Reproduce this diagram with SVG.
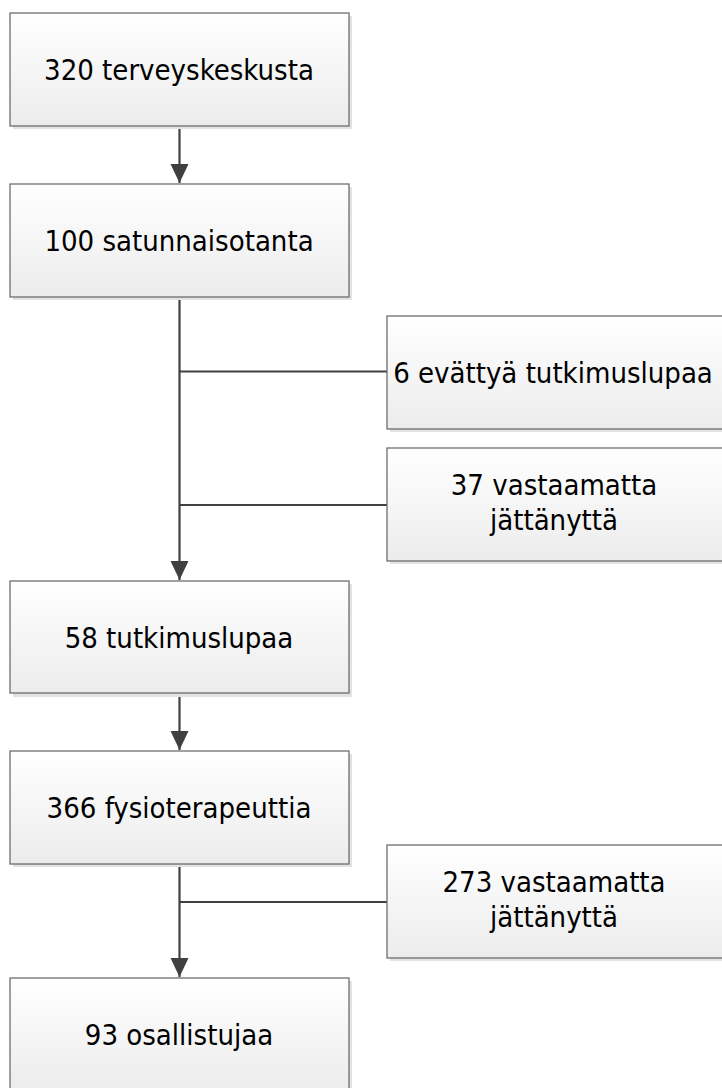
<svg xmlns="http://www.w3.org/2000/svg" width="722" height="1088" viewBox="0 0 722 1088">
<style>
.box{fill:url(#g);stroke:#6e6e6e;stroke-width:1.3}
.sh{fill:#e2e2e2}
.t{font-family:"DejaVu Sans Condensed","DejaVu Sans",sans-serif;font-size:29px;fill:#000;text-anchor:middle}
.c{stroke:#404040;stroke-width:2.2;fill:none}
</style>
<defs>
<linearGradient id="g" x1="0" y1="0" x2="0" y2="1">
<stop offset="0" stop-color="#ffffff"/>
<stop offset="1" stop-color="#ececec"/>
</linearGradient>
<marker id="a" markerUnits="userSpaceOnUse" markerWidth="20" markerHeight="20" viewBox="0 0 20 20" refX="19" refY="10" orient="auto">
<path d="M0,1 L19,10 L0,19 Z" fill="#404040"/>
</marker>
</defs>
<g id="connectors">
<line class="c" x1="179.5" y1="126" x2="179.5" y2="183" marker-end="url(#a)"/>
<line class="c" x1="179.5" y1="297" x2="179.5" y2="580" marker-end="url(#a)"/>
<line class="c" x1="179.5" y1="371.5" x2="387" y2="371.5"/>
<line class="c" x1="179.5" y1="505" x2="387" y2="505"/>
<line class="c" x1="179.5" y1="693" x2="179.5" y2="750" marker-end="url(#a)"/>
<line class="c" x1="179.5" y1="864" x2="179.5" y2="977" marker-end="url(#a)"/>
<line class="c" x1="179.5" y1="902" x2="387" y2="902"/>
</g>
<g id="n1"><rect class="sh" x="13" y="16" width="339" height="113"/><rect class="box" x="10" y="13" width="339" height="113"/><text class="t" x="179" y="80">320 terveyskeskusta</text></g>
<g id="n2"><rect class="sh" x="13" y="187" width="339" height="113"/><rect class="box" x="10" y="184" width="339" height="113"/><text class="t" x="179" y="251">100 satunnaisotanta</text></g>
<g id="n3"><rect class="sh" x="390" y="319" width="339" height="113"/><rect class="box" x="387" y="316" width="339" height="113"/><text class="t" x="553" y="383">6 evättyä tutkimuslupaa</text></g>
<g id="n4"><rect class="sh" x="390" y="451" width="339" height="113"/><rect class="box" x="387" y="448" width="339" height="113"/><text class="t" x="554" y="495">37 vastaamatta</text><text class="t" x="554" y="530">jättänyttä</text></g>
<g id="n5"><rect class="sh" x="13" y="584" width="339" height="113"/><rect class="box" x="10" y="581" width="339" height="112"/><text class="t" x="179" y="648">58 tutkimuslupaa</text></g>
<g id="n6"><rect class="sh" x="13" y="754" width="339" height="113"/><rect class="box" x="10" y="751" width="339" height="113"/><text class="t" x="179" y="818">366 fysioterapeuttia</text></g>
<g id="n7"><rect class="sh" x="390" y="848" width="339" height="113"/><rect class="box" x="387" y="845" width="339" height="113"/><text class="t" x="554" y="892">273 vastaamatta</text><text class="t" x="554" y="927">jättänyttä</text></g>
<g id="n8"><rect class="sh" x="13" y="981" width="339" height="113"/><rect class="box" x="10" y="978" width="339" height="113"/><text class="t" x="179" y="1045">93 osallistujaa</text></g>
</svg>
